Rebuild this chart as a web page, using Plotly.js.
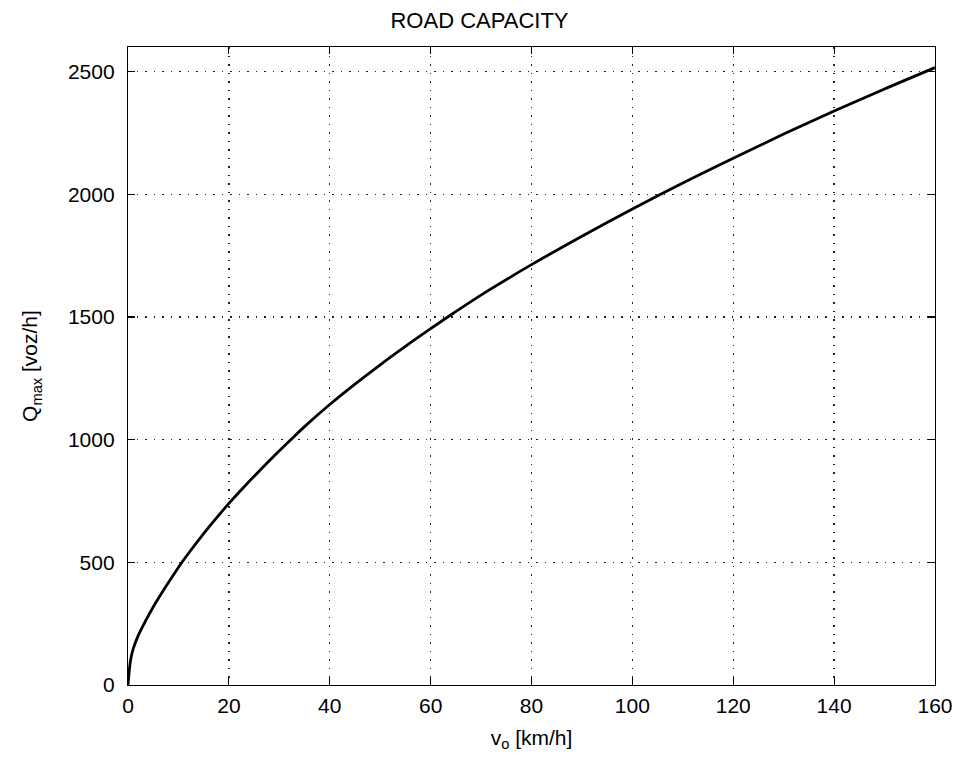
<!DOCTYPE html>
<html>
<head>
<meta charset="utf-8">
<script src="https://cdn.plot.ly/plotly-3.0.1.min.js"></script>
<style>html,body{margin:0;padding:0;background:#fff;}#chart{width:959px;height:758px;}</style>
</head>
<body>
<div id="chart"></div>
<script>
// Road capacity: free-flow speed v0 [km/h] vs maximum flow Qmax [voz/h]
const speed = [0, 0.5, 1, 2, 3.5, 5, 7, 9, 10.7, 12.3, 15, 17.6, 20, 22.9, 25.5, 29.5, 32.1, 35, 40, 45, 50, 55, 60, 64.5, 71, 80, 90, 100, 110, 120, 130, 140, 150, 160];
const qmax  = [0, 100, 145, 200, 262, 318, 385, 448, 500, 545, 617, 682, 740, 805, 861, 944, 996, 1053, 1143, 1226, 1305, 1380, 1452, 1515, 1602, 1713, 1829, 1940, 2046, 2147, 2245, 2339, 2429, 2516];
const xTicks = [0, 20, 40, 60, 80, 100, 120, 140, 160];
const yTicks = [0, 500, 1000, 1500, 2000, 2500];

const fam = 'Liberation Sans, Arial, sans-serif';
const tickFont = {family: fam, size: 21, color: '#000'};
const labelFont = {family: fam, size: 21, color: '#000'};

const trace = {
  x: speed, y: qmax, type: 'scatter', mode: 'lines',
  line: {color: '#000', width: 2.8, shape: 'spline', smoothing: 1},
  hoverinfo: 'skip'
};

const axisCommon = {
  showline: true, linecolor: '#000', linewidth: 1.2, mirror: 'ticks',
  ticks: 'inside', ticklen: 7, tickcolor: '#000', tickwidth: 1.2,
  showgrid: true, gridcolor: '#222', gridwidth: 1.4, griddash: '1.5px,7px',
  zeroline: false, tickfont: tickFont
};

const layout = {
  width: 959, height: 758,
  margin: {l: 128, r: 24, t: 47, b: 73},
  paper_bgcolor: '#fff', plot_bgcolor: '#fff',
  showlegend: false,
  font: tickFont,
  title: {text: 'ROAD CAPACITY', font: {family: fam, size: 22, color: '#000'}, x: 0.5, xanchor: 'center', y: 0.973, yanchor: 'middle'},
  xaxis: Object.assign({}, axisCommon, {
    range: [0, 160], tickvals: xTicks, ticktext: xTicks.map(String),
    ticklabelstandoff: 2,
    title: {text: 'v<sub>o</sub> [km/h]', font: labelFont, standoff: 13}
  }),
  yaxis: Object.assign({}, axisCommon, {
    range: [0, 2600], tickvals: yTicks, ticktext: yTicks.map(String),
    ticklabelstandoff: 8,
    title: {text: 'Q<sub>max</sub> [voz/h]', font: labelFont, standoff: 24}
  })
};

Plotly.newPlot('chart', [trace], layout, {displayModeBar: false, staticPlot: true});
</script>
</body>
</html>
